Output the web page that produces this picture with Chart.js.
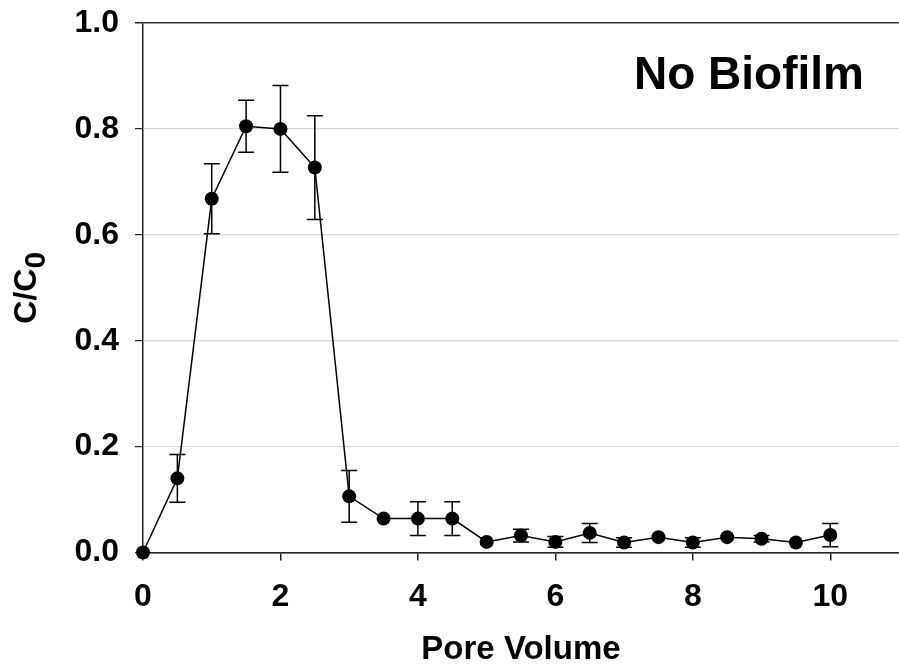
<!DOCTYPE html>
<html>
<head>
<meta charset="utf-8">
<script src="https://cdn.jsdelivr.net/npm/chart.js@4"></script>
<style>
  html, body { margin: 0; padding: 0; background: #fff; }
  #wrap { width: 899px; height: 670px; }
</style>
</head>
<body>
<div id="wrap"><canvas id="breakthrough" width="899" height="670"></canvas></div>
<script>
// breakthrough curve, no biofilm column
const poreVolume = [0, 0.5, 1, 1.5, 2, 2.5, 3, 3.5, 4, 4.5, 5, 5.5, 6, 6.5, 7, 7.5, 8, 8.5, 9, 9.5, 10];
const cOverC0 = [0, 0.140, 0.668, 0.805, 0.800, 0.727, 0.106, 0.064, 0.064, 0.064, 0.020,
                 0.032, 0.020, 0.037, 0.019, 0.029, 0.019, 0.029, 0.026, 0.019, 0.033];
const stdErr = [0, 0.045, 0.066, 0.049, 0.082, 0.098, 0.049, 0, 0.032, 0.032, 0,
                0.012, 0.010, 0.018, 0.009, 0, 0.009, 0, 0.006, 0, 0.022];
const xTicks = [0, 2, 4, 6, 8, 10];
const yTicks = [0, 0.2, 0.4, 0.6, 0.8, 1.0];

const FONT = 'Liberation Sans, Arial, Helvetica, sans-serif';

// error bars, drawn under the markers
const errorBars = {
    id: 'errorBars',
    beforeDatasetsDraw(chart) {
        const { ctx, scales: { x, y } } = chart;
        ctx.save();
        ctx.strokeStyle = '#000';
        ctx.lineWidth = 1.5;
        poreVolume.forEach((pv, i) => {
            if (!stdErr[i]) return;
            const px = x.getPixelForValue(pv);
            const top = y.getPixelForValue(cOverC0[i] + stdErr[i]);
            const bot = y.getPixelForValue(cOverC0[i] - stdErr[i]);
            ctx.beginPath();
            ctx.moveTo(px, top); ctx.lineTo(px, bot);
            ctx.moveTo(px - 8, top); ctx.lineTo(px + 8, top);
            ctx.moveTo(px - 8, bot); ctx.lineTo(px + 8, bot);
            ctx.stroke();
        });
        ctx.restore();
    }
};

// y title with subscript, plus the panel label
const extraText = {
    id: 'extraText',
    afterDraw(chart) {
        const { ctx, chartArea } = chart;
        ctx.save();
        ctx.fillStyle = '#000';

        // C/C0 rotated
        const midY = (chartArea.top + chartArea.bottom) / 2;
        ctx.translate(36, midY);
        ctx.rotate(-Math.PI / 2);
        ctx.font = 'bold 32px ' + FONT;
        const main = 'C/C';
        const wMain = ctx.measureText(main).width;
        ctx.font = 'bold 30px ' + FONT;
        const wSub = ctx.measureText('0').width;
        const start = -(wMain + wSub) / 2;
        ctx.textBaseline = 'alphabetic';
        ctx.textAlign = 'left';
        ctx.font = 'bold 32px ' + FONT;
        ctx.fillText(main, start, 0);
        ctx.font = 'bold 30px ' + FONT;
        ctx.fillText('0', start + wMain, 9);
        ctx.setTransform(1, 0, 0, 1, 0, 0);

        ctx.font = 'bold 46px ' + FONT;
        ctx.textAlign = 'center';
        ctx.textBaseline = 'alphabetic';
        ctx.fillText('No Biofilm', 749, 89);
        ctx.restore();
    }
};

function noOverflow(scale) {
    scale.paddingTop = 0;
    scale.paddingBottom = 0;
    scale.paddingLeft = 0;
    scale.paddingRight = 0;
}

new Chart(document.getElementById('breakthrough'), {
    type: 'scatter',
    data: {
        datasets: [{
            data: poreVolume.map((pv, i) => ({ x: pv, y: cOverC0[i] })),
            showLine: true,
            borderColor: '#000',
            borderWidth: 1.5,
            backgroundColor: '#000',
            pointRadius: 7,
            pointBackgroundColor: '#000',
            pointBorderWidth: 0,
            clip: false
        }]
    },
    options: {
        responsive: false,
        animation: false,
        devicePixelRatio: 1,
        layout: { autoPadding: false, padding: { top: 23, right: 0, left: 0, bottom: 0 } },
        plugins: { legend: { display: false }, tooltip: { enabled: false } },
        scales: {
            x: {
                type: 'linear',
                min: 0,
                max: 11,
                afterFit(scale) { scale.height = 117.5; noOverflow(scale); },
                afterBuildTicks(scale) { scale.ticks = xTicks.map(v => ({ value: v })); },
                ticks: {
                    color: '#000',
                    padding: 17,
                    font: { family: FONT, size: 32, weight: 'bold' },
                    callback: v => String(v)
                },
                grid: { drawOnChartArea: false, drawTicks: true, tickLength: 8, tickColor: '#222', lineWidth: 1.5 },
                border: { color: '#222', width: 1.5 },
                title: {
                    display: true,
                    text: 'Pore Volume',
                    color: '#000',
                    font: { family: FONT, size: 33, weight: 'bold' },
                    padding: { top: 0, bottom: 0 }
                }
            },
            y: {
                min: 0,
                max: 1,
                afterFit(scale) { scale.width = 143; noOverflow(scale); },
                afterBuildTicks(scale) { scale.ticks = yTicks.map(v => ({ value: v })); },
                ticks: {
                    color: '#000',
                    padding: 16,
                    font: { family: FONT, size: 32, weight: 'bold' },
                    callback: v => v.toFixed(1)
                },
                grid: {
                    color: c => (c.tick && (c.tick.value === 1 || c.tick.value === 0)) ? '#333' : '#d9d9d9',
                    lineWidth: c => (c.tick && c.tick.value === 1) ? 1.5 : 1.2,
                    tickColor: '#222',
                    tickLength: 8
                },
                border: { color: '#222', width: 1.5 }
            }
        }
    },
    plugins: [errorBars, extraText]
});
</script>
</body>
</html>
